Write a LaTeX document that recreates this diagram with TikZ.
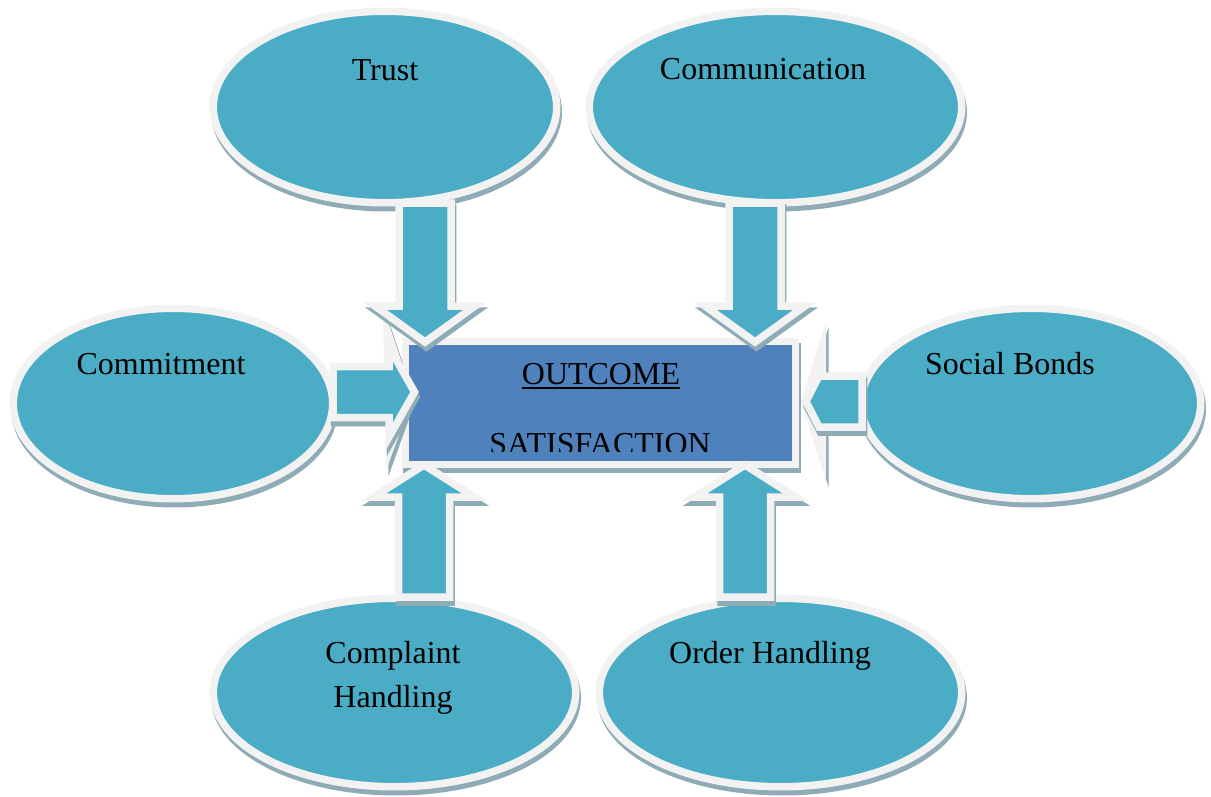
\documentclass[tikz,border=0pt]{standalone}
\usepackage{fontspec}
\setmainfont{Liberation Serif}
\usepackage{tikz}
\usetikzlibrary{shapes.geometric}

\definecolor{ovalcol}{HTML}{4BACC6}
\definecolor{boxcol}{HTML}{4F81BD}
\definecolor{rimcol}{HTML}{F2F2F2}
\definecolor{shadecol}{HTML}{8EABB6}

\tikzset{
  shaded/.style={preaction={fill=shadecol, draw=shadecol, line width=0.15cm,
      transform canvas={xshift=0.03cm, yshift=-0.1cm}}},
  oval/.style={ellipse, shaded, fill=ovalcol, draw=rimcol, line width=0.15cm, inner sep=0pt},
  outbox/.style={rectangle, shaded, fill=boxcol, draw=rimcol, line width=0.15cm, inner sep=0pt},
  blockarr/.style={shaded, fill=ovalcol, draw=rimcol, line width=0.15cm, line join=miter, miter limit=12},
  spike/.style={preaction={fill=shadecol, transform canvas={xshift=0.05cm, yshift=-0.1cm}}, fill=rimcol},
  lbl/.style={font=\fontsize{18.2}{22}\selectfont, text=black, inner sep=0pt, anchor=base},
}

\begin{document}
\begin{tikzpicture}[x=0.02cm, y=-0.02cm]
\useasboundingbox (0,0) rectangle (1211,796);

% the six factors
\node[oval, minimum width=6.87cm, minimum height=3.83cm] (trust) at (385,107) {};
\node[oval, minimum width=7.45cm, minimum height=3.83cm] (comm) at (775.5,107) {};
\node[oval, minimum width=6.39cm, minimum height=3.81cm] (commit) at (173,403.5) {};
\node[oval, minimum width=6.79cm, minimum height=3.81cm] (social) at (1031,403.5) {};
\node[oval, minimum width=7.25cm, minimum height=3.77cm] (complaint) at (394.5,692.5) {};
\node[oval, minimum width=7.25cm, minimum height=3.77cm] (order) at (780.5,692.5) {};

\node[lbl] (trusttxt) at (385,80) {Trust};
\node[lbl] (commtxt) at (763,79) {Communication};
\node[lbl] (committxt) at (161,374) {Commitment};
\node[lbl] (socialtxt) at (1010,374) {Social Bonds};
\node[lbl] (complainttxt) at (393,663) {Complaint};
\node[lbl] (handlingtxt) at (393,707) {Handling};
\node[lbl] (ordertxt) at (770,663) {Order Handling};

% outcome box in the middle
\node[outbox, minimum width=7.81cm, minimum height=2.47cm] (outcome) at (600.5,403) {};
\node[lbl] (outtxt) at (601,384) {OUTCOME};
\draw[line width=0.04cm] ([yshift=-0.08cm]outtxt.base west) -- ([yshift=-0.08cm]outtxt.base east);
\begin{scope}
  \clip (409,345) rectangle (792,451);
  \node[lbl] (sattxt) at (600,454) {SATISFACTION};
\end{scope}

% pointed rims behind the side arrows
\fill[spike] (383,306) -- (413,396) -- (386,471) -- cycle;
\fill[spike] (826,322) -- (801,402) -- (826,482) -- cycle;

% side arrows
\draw[blockarr] (333,366.5) -- (389,366.5) -- (389,347) -- (414.5,392) -- (389,437) -- (389,417.5) -- (333,417.5) -- cycle;
\draw[blockarr] (862,376) -- (819,376) -- (806,401.5) -- (819,427) -- (862,427) -- cycle;

% arrows from above and below
\foreach \c in {425,755}
  \draw[blockarr] (\c-26,203) -- (\c-26,306) -- (\c-50,306) -- (\c,342) -- (\c+50,306) -- (\c+26,306) -- (\c+26,203) -- cycle;
\foreach \c in {424,745}
  \draw[blockarr] (\c-25.5,597) -- (\c-25.5,497) -- (\c-50.5,497) -- (\c,465) -- (\c+50.5,497) -- (\c+25.5,497) -- (\c+25.5,597) -- cycle;
\end{tikzpicture}
\end{document}
